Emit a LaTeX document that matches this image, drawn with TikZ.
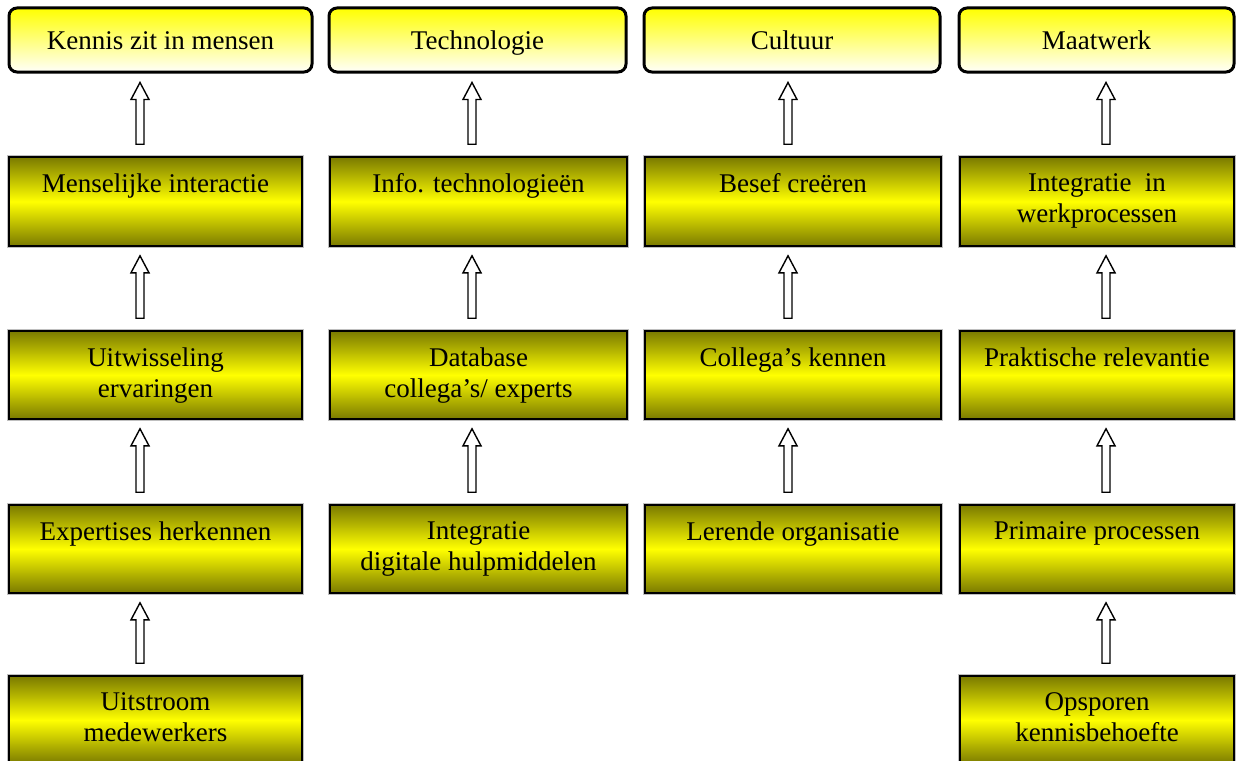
\documentclass[tikz,border=0pt]{standalone}
\usepackage{fontspec}
\setmainfont{Liberation Serif}
\usetikzlibrary{calc}
\definecolor{olivebox}{RGB}{122,122,0}
\definecolor{ybright}{RGB}{255,255,0}
\tikzset{
  headbox/.style={draw=black, line width=3pt, rounded corners=8pt, top color=ybright, bottom color=ybright!2, inner sep=0pt},
  stepbox/.style={draw=black, line width=1.6pt, top color=olivebox, bottom color=olivebox, middle color=ybright, inner sep=0pt,
    preaction={draw=black!25, line width=3.5pt}},
  boxtext/.style={anchor=north, align=center, inner sep=0pt, font=\fontsize{27}{31}\selectfont},
  headtext/.style={anchor=center, inner sep=0pt, text height=19pt, text depth=5pt, font=\fontsize{27}{31}\selectfont},
  arrowline/.style={draw=black, line width=1.4pt, fill=white, line join=miter}
}
% rect node: name, x1, x2, y1, y2, style
\newcommand\boxat[6]{\node[#6, minimum width=#3-#2, minimum height=#5-#4] (#1) at ({(#2+#3)/2},{(#4+#5)/2}) {};}
% block arrow: from (lower), to (upper), x centre
\newcommand\barrow[3]{\draw[arrowline] let \p1=($(#1.north)+(0,-12)$), \p2=($(#2.south)+(0,9)$) in
  (#3-4,\y1) -- (#3-4,\y2-17pt) -- (#3-9,\y2-17pt) -- (#3,\y2) -- (#3+9,\y2-17pt) -- (#3+4,\y2-17pt) -- (#3+4,\y1) -- cycle;}
\begin{document}
\begin{tikzpicture}[x=1pt,y=-1pt]
\useasboundingbox (0,0) rectangle (1236,760);
% head boxes
\boxat{h1}{9}{312}{8}{72}{headbox}
\boxat{h2}{329}{626}{8}{72}{headbox}
\boxat{h3}{644}{940}{8}{72}{headbox}
\boxat{h4}{959}{1234}{8}{72}{headbox}
\node[headtext] (h1t) at ($(h1)+(0,2)$) {Kennis zit in mensen};
\node[headtext] (h2t) at ($(h2)+(0,2)$) {Technologie};
\node[headtext] (h3t) at ($(h3)+(0,2)$) {Cultuur};
\node[headtext] (h4t) at ($(h4)+(0,2)$) {Maatwerk};
% column 1
\boxat{a1}{9}{302}{157}{246}{stepbox}
\boxat{a2}{9}{302}{331}{419}{stepbox}
\boxat{a3}{9}{302}{505}{593}{stepbox}
\boxat{a4}{9}{302}{676}{764}{stepbox}
% column 2
\boxat{b1}{330}{627}{157}{246}{stepbox}
\boxat{b2}{330}{627}{331}{419}{stepbox}
\boxat{b3}{330}{627}{505}{593}{stepbox}
% column 3
\boxat{c1}{645}{941}{157}{246}{stepbox}
\boxat{c2}{645}{941}{331}{419}{stepbox}
\boxat{c3}{645}{941}{505}{593}{stepbox}
% column 4
\boxat{d1}{960}{1234}{157}{246}{stepbox}
\boxat{d2}{960}{1234}{331}{419}{stepbox}
\boxat{d3}{960}{1234}{505}{593}{stepbox}
\boxat{d4}{960}{1234}{676}{764}{stepbox}
% texts
\node[boxtext] (a1t) at ($(a1.north)+(0,17)$) {Menselijke interactie};
\node[boxtext] (a2t) at ($(a2.north)+(0,17)$) {Uitwisseling\\ervaringen};
\node[boxtext] (a3t) at ($(a3.north)+(0,17)$) {Expertises herkennen};
\node[boxtext] (a4t) at ($(a4.north)+(0,17)$) {Uitstroom\\medewerkers};
\node[boxtext] (b1t) at ($(b1.north)+(0,17)$) {Info. technologieën};
\node[boxtext] (b2t) at ($(b2.north)+(0,17)$) {Database\\collega’s/ experts};
\node[boxtext] (b3t) at ($(b3.north)+(0,17)$) {Integratie\\digitale hulpmiddelen};
\node[boxtext] (c1t) at ($(c1.north)+(0,17)$) {Besef creëren};
\node[boxtext] (c2t) at ($(c2.north)+(0,17)$) {Collega’s kennen};
\node[boxtext] (c3t) at ($(c3.north)+(0,17)$) {Lerende organisatie};
\node[boxtext] (d1t) at ($(d1.north)+(0,17)$) {Integratie~ in\\werkprocessen};
\node[boxtext] (d2t) at ($(d2.north)+(0,17)$) {Praktische relevantie};
\node[boxtext] (d3t) at ($(d3.north)+(0,17)$) {Primaire processen};
\node[boxtext] (d4t) at ($(d4.north)+(0,17)$) {Opsporen\\kennisbehoefte};
% arrows
\barrow{a1}{h1}{140}
\barrow{a2}{a1}{140}
\barrow{a3}{a2}{140}
\barrow{a4}{a3}{140}
\barrow{b1}{h2}{472}
\barrow{b2}{b1}{472}
\barrow{b3}{b2}{472}
\barrow{c1}{h3}{788}
\barrow{c2}{c1}{788}
\barrow{c3}{c2}{788}
\barrow{d1}{h4}{1106}
\barrow{d2}{d1}{1106}
\barrow{d3}{d2}{1106}
\barrow{d4}{d3}{1106}
\end{tikzpicture}
\end{document}
